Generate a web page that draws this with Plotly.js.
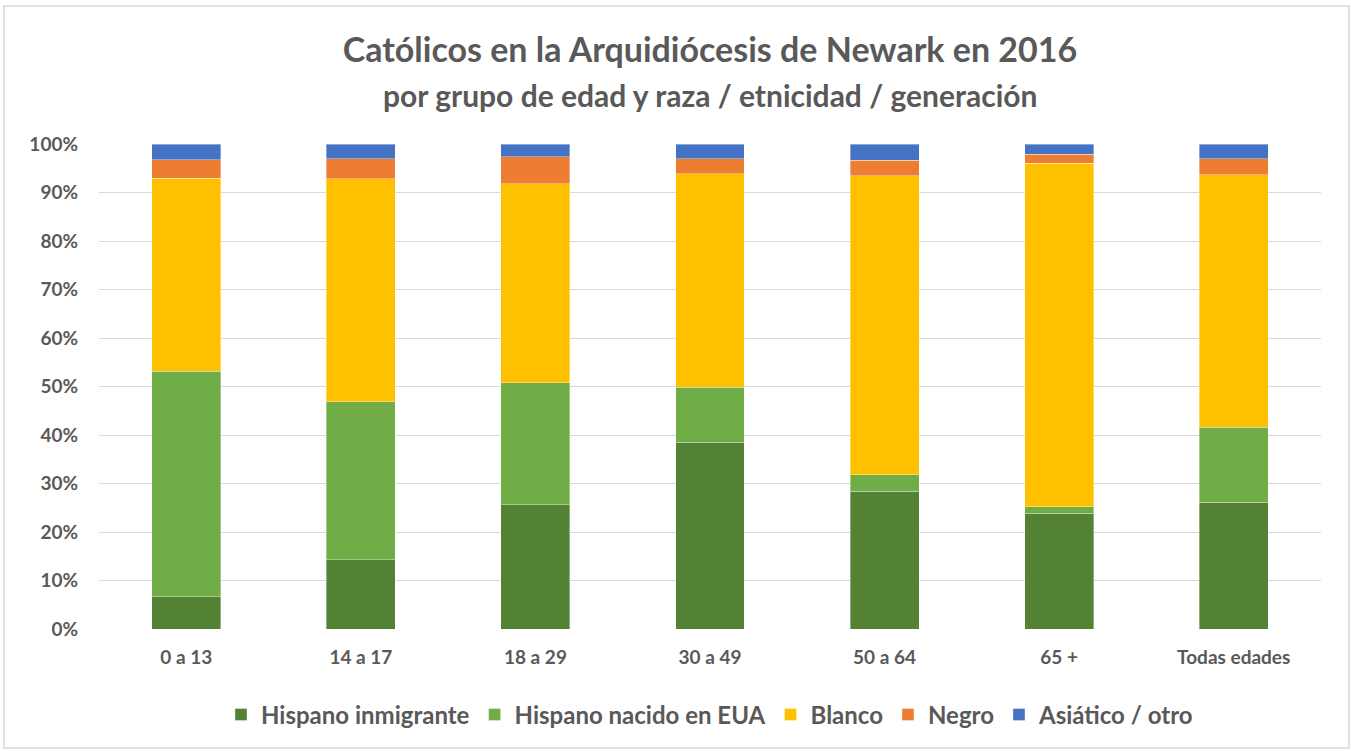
<!DOCTYPE html>
<html>
<head>
<meta charset="utf-8">
<script src="https://cdn.plot.ly/plotly-3.0.1.min.js"></script>
<style>html,body{margin:0;padding:0;background:#fff;}#chart{width:1351px;height:751px;}</style>
</head>
<body>
<div id="chart"></div>
<script>
const categories = ["0 a 13", "14 a 17", "18 a 29", "30 a 49", "50 a 64", "65 +", "Todas edades"];
const hispanoInmigrante = [0.067, 0.143, 0.256, 0.385, 0.284, 0.239, 0.261];
const hispanoNacido     = [0.464, 0.326, 0.252, 0.113, 0.034, 0.013, 0.155];
const blanco            = [0.398, 0.459, 0.410, 0.441, 0.617, 0.708, 0.521];
const negro             = [0.039, 0.042, 0.056, 0.031, 0.031, 0.019, 0.033];
const asiatico          = [0.032, 0.030, 0.026, 0.030, 0.034, 0.021, 0.030];
const seriesNames = ["Hispano inmigrante", "Hispano nacido en EUA", "Blanco", "Negro", "Asiático / otro"];
const yTickVals = [0, 0.1, 0.2, 0.3, 0.4, 0.5, 0.6, 0.7, 0.8, 0.9, 1.0];
const yTickText = ["0%", "10%", "20%", "30%", "40%", "50%", "60%", "70%", "80%", "90%", "100%"];

const colors = ["#548235", "#70AD47", "#FFC000", "#ED7D31", "#4472C4"];
const allSeries = [hispanoInmigrante, hispanoNacido, blanco, negro, asiatico];
const font = "Lato, 'Open Sans', sans-serif";
const grey = "#595959";

const traces = allSeries.map((vals, i) => ({
  type: "bar",
  name: seriesNames[i],
  x: categories,
  y: vals,
  marker: {color: colors[i], line: {color: "rgba(255,255,255,0.6)", width: 0.6}},
  hoverinfo: "x+y+name"
}));

const layout = {
  width: 1351, height: 751,
  barmode: "stack",
  bargap: 0.605,
  paper_bgcolor: "#fff",
  plot_bgcolor: "#fff",
  margin: {l: 99, r: 30, t: 144, b: 122},
  font: {family: font, color: grey},
  title: {
    text: "<b>Católicos en la Arquidiócesis de Newark en 2016</b>",
    font: {family: font, size: 34, color: grey},
    x: 0.5, xanchor: "center", xref: "paper",
    y: 1 - 50/751, yanchor: "middle", yref: "container"
  },
  annotations: [{
    text: "<b>por grupo de edad y raza / etnicidad / generación</b>",
    xref: "paper", yref: "paper", x: 0.5, y: (751-122-95)/(751-144-122), xanchor: "center", yanchor: "middle",
    showarrow: false, font: {family: font, size: 30, color: grey}
  }],
  xaxis: {
    type: "category",
    tickfont: {family: font, size: 19, color: grey, weight: "bold"},
    ticklabelstandoff: 15,
    showgrid: false, zeroline: false, showline: false, ticks: ""
  },
  yaxis: {
    range: [0, 1],
    tickvals: yTickVals, ticktext: yTickText,
    tickfont: {family: font, size: 19, color: grey, weight: "bold"},
    ticklabelstandoff: 20,
    gridcolor: "#D9D9D9", gridwidth: 1,
    zeroline: false, showline: false, ticks: ""
  },
  legend: {
    orientation: "h",
    x: 0.5, xanchor: "center",
    y: -(715-629)/(751-144-122), yanchor: "middle",
    font: {family: font, size: 24, color: grey, weight: "bold"},
    traceorder: "normal",
    itemwidth: 30
  },
  shapes: [{
    type: "rect", xref: "paper", yref: "paper",
    x0: -95/1222, x1: 1 + 28/1222,
    y0: -119/485, y1: 1 + 138/485,
    line: {color: "#D9D9D9", width: 1.5}, fillcolor: "rgba(0,0,0,0)", layer: "below"
  }],
  showlegend: true
};

Plotly.newPlot("chart", traces, layout, {displayModeBar: false, responsive: false});
</script>
</body>
</html>
